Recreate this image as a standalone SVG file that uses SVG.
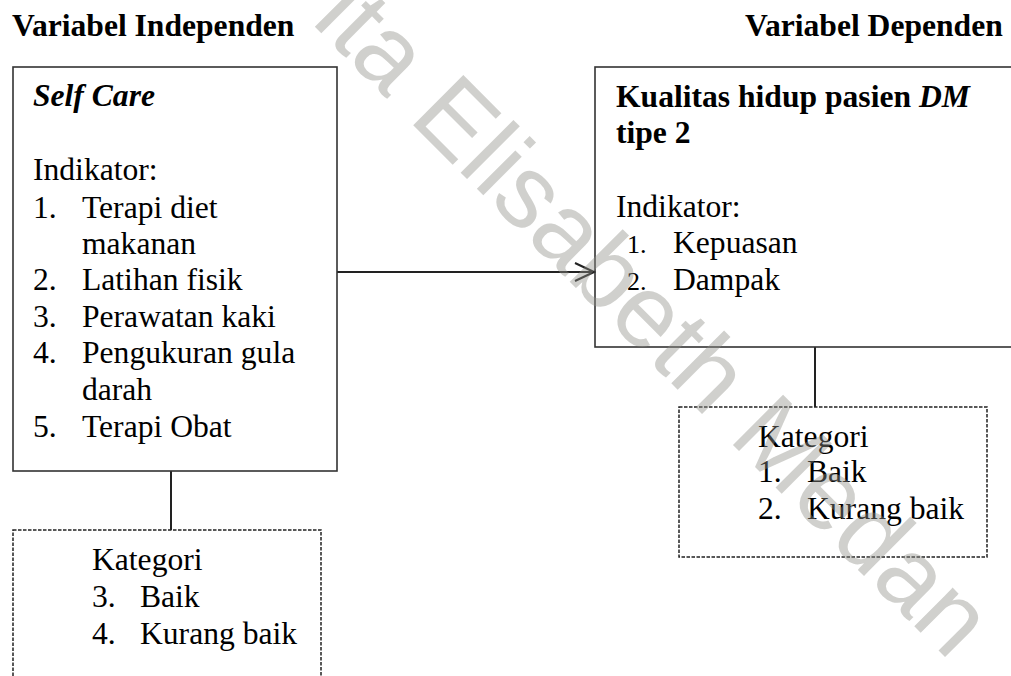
<svg xmlns="http://www.w3.org/2000/svg" width="1011" height="676" viewBox="0 0 1011 676">
<defs>
<style>
.t{font-family:"Liberation Serif","Times New Roman",serif;font-size:31.6px;fill:#000}
.b{font-weight:bold}
.i{font-style:italic}
.sm{font-size:26px}
.box{fill:none;stroke:#333;stroke-width:1.6}
.dash{fill:none;stroke:#222;stroke-width:1.5;stroke-dasharray:3.5 1.5}
.con{stroke:#222;stroke-width:2;fill:none}
.wm{font-family:"Liberation Sans",Arial,sans-serif;font-size:103px;fill:#908e87;fill-opacity:0.42}
</style>
<marker id="arr" markerWidth="22" markerHeight="22" refX="20" refY="10" orient="auto" markerUnits="userSpaceOnUse">
<path d="M1,1 L20,10 L1,19" fill="none" stroke="#222" stroke-width="2"/>
</marker>
</defs>
<rect width="1011" height="676" fill="#fff"/>
<g id="titles">
<text class="t b" x="12" y="36">Variabel Independen</text>
<text class="t b" x="745" y="36">Variabel Dependen</text>
</g>
<g id="connectors">
<line class="con" x1="337" y1="272" x2="594" y2="272" marker-end="url(#arr)"/>
<line class="con" x1="171" y1="471" x2="171" y2="530"/>
<line class="con" x1="815" y1="347" x2="815" y2="407"/>
</g>
<g id="self-care">
<rect class="box" x="13" y="67" width="324" height="404"/>
<text class="t b i" x="33" y="106">Self Care</text>
<text class="t" x="33" y="180">Indikator:</text>
<text class="t" x="33" y="218">1.</text><text class="t" x="82" y="218">Terapi diet</text>
<text class="t" x="82" y="254">makanan</text>
<text class="t" x="33" y="290">2.</text><text class="t" x="82" y="290">Latihan fisik</text>
<text class="t" x="33" y="327">3.</text><text class="t" x="82" y="327">Perawatan kaki</text>
<text class="t" x="33" y="363">4.</text><text class="t" x="82" y="363">Pengukuran gula</text>
<text class="t" x="82" y="400">darah</text>
<text class="t" x="33" y="437">5.</text><text class="t" x="82" y="437">Terapi Obat</text>
</g>
<g id="kategori-left">
<rect class="dash" x="13" y="530" width="308" height="170"/>
<text class="t" x="92" y="570">Kategori</text>
<text class="t" x="92" y="607">3.</text><text class="t" x="140" y="607">Baik</text>
<text class="t" x="92" y="644">4.</text><text class="t" x="140" y="644">Kurang baik</text>
</g>
<g id="kualitas-hidup">
<rect class="box" x="595" y="67" width="430" height="280"/>
<text class="t b" x="616" y="107">Kualitas hidup pasien <tspan class="i">DM</tspan></text>
<text class="t b" x="616" y="143">tipe 2</text>
<text class="t" x="616" y="217">Indikator:</text>
<text class="t sm" x="627" y="253">1.</text><text class="t" x="673" y="253">Kepuasan</text>
<text class="t sm" x="627" y="290">2.</text><text class="t" x="673" y="290">Dampak</text>
</g>
<g id="kategori-right">
<rect class="dash" x="679" y="407" width="308" height="150"/>
<text class="t" x="758" y="447">Kategori</text>
<text class="t" x="758" y="482">1.</text><text class="t" x="807" y="482">Baik</text>
<text class="t" x="758" y="519">2.</text><text class="t" x="807" y="519">Kurang baik</text>
</g>
<g id="watermark">
<text class="wm" x="310" y="22" transform="rotate(45 310 22)">ita Elisabeth Medan</text>
</g>
</svg>
